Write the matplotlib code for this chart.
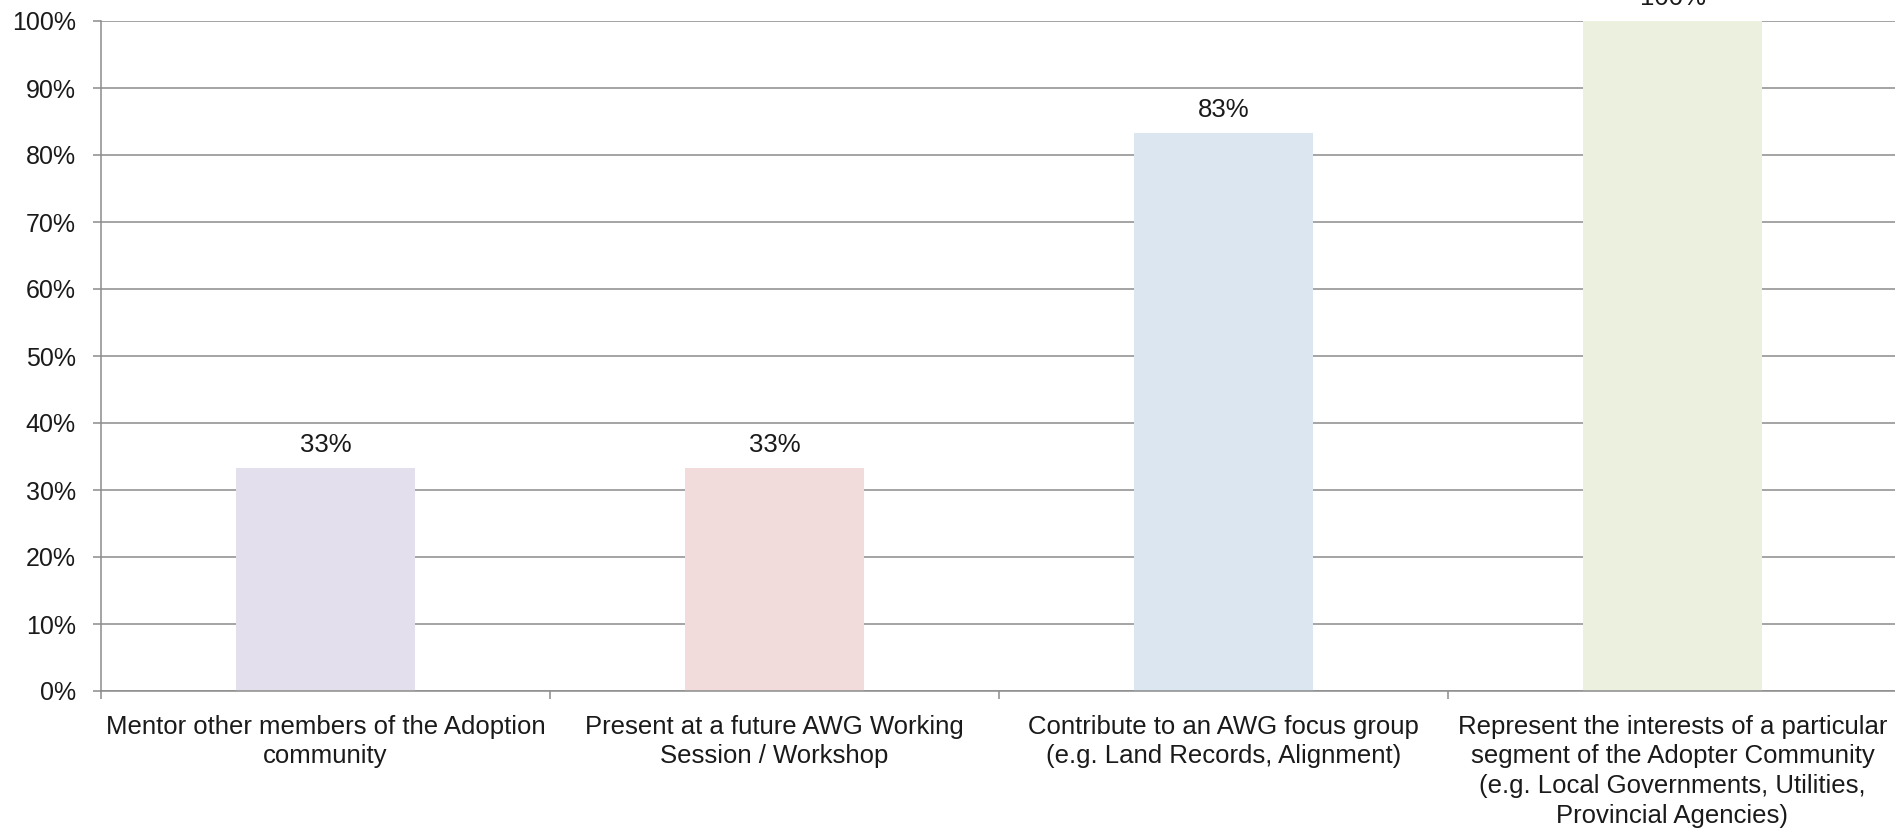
import matplotlib
matplotlib.use('Agg')
import matplotlib.pyplot as plt
from matplotlib.ticker import FixedLocator, PercentFormatter

# survey answers, share of respondents
categories = [
    'Mentor other members of the Adoption\ncommunity',
    'Present at a future AWG Working\nSession / Workshop',
    'Contribute to an AWG focus group\n(e.g. Land Records, Alignment)',
    'Represent the interests of a particular\nsegment of the Adopter Community\n(e.g. Local Governments, Utilities,\nProvincial Agencies)',
]
shares = [33.3, 33.3, 83.3, 100.0]
share_labels = ['33%', '33%', '83%', '100%']
bar_colors = ['#E4DFEC', '#F2DCDB', '#DCE6F1', '#EBF1DE']

plt.rcParams['font.family'] = ['Liberation Sans', 'DejaVu Sans']
grid_gray = '#8c8c8c'

fig = plt.figure(figsize=(18.95, 8.32), dpi=100)
ax = fig.add_axes([101 / 1895, 1 - 691 / 832, (1897 - 101) / 1895, (691 - 21) / 832])

x = range(len(categories))
ax.bar(x, shares, width=0.4, color=bar_colors, zorder=3)

for i, v in enumerate(shares):
    ax.annotate(share_labels[i], (i, v), xytext=(0, 8), textcoords='offset points',
                ha='center', va='bottom', fontsize=18.5, color='#1a1a1a', annotation_clip=False)

ax.set_xlim(-0.5, len(categories) - 0.5)
ax.set_ylim(0, 100)
ax.yaxis.set_major_locator(FixedLocator(range(0, 101, 10)))
ax.yaxis.set_major_formatter(PercentFormatter(decimals=0))
ax.grid(axis='y', color=grid_gray, linewidth=1.1, zorder=0)

ax.set_xticks(list(x))
ax.set_xticklabels(categories, fontsize=18.5, color='#1a1a1a', linespacing=1.3)
ax.xaxis.set_minor_locator(FixedLocator([i - 0.5 for i in range(len(categories) + 1)]))
ax.tick_params(axis='x', which='major', length=0, pad=17)
ax.tick_params(axis='x', which='minor', length=6, width=1.1, color=grid_gray)
ax.tick_params(axis='y', length=6, width=1.1, color=grid_gray, labelsize=18,
               labelcolor='#1a1a1a', pad=12)

for side in ['top', 'right']:
    ax.spines[side].set_visible(False)
for side in ['left', 'bottom']:
    ax.spines[side].set_color(grid_gray)
    ax.spines[side].set_linewidth(1.1)
    ax.spines[side].set_zorder(4)

fig.savefig('out.png', dpi=100)
